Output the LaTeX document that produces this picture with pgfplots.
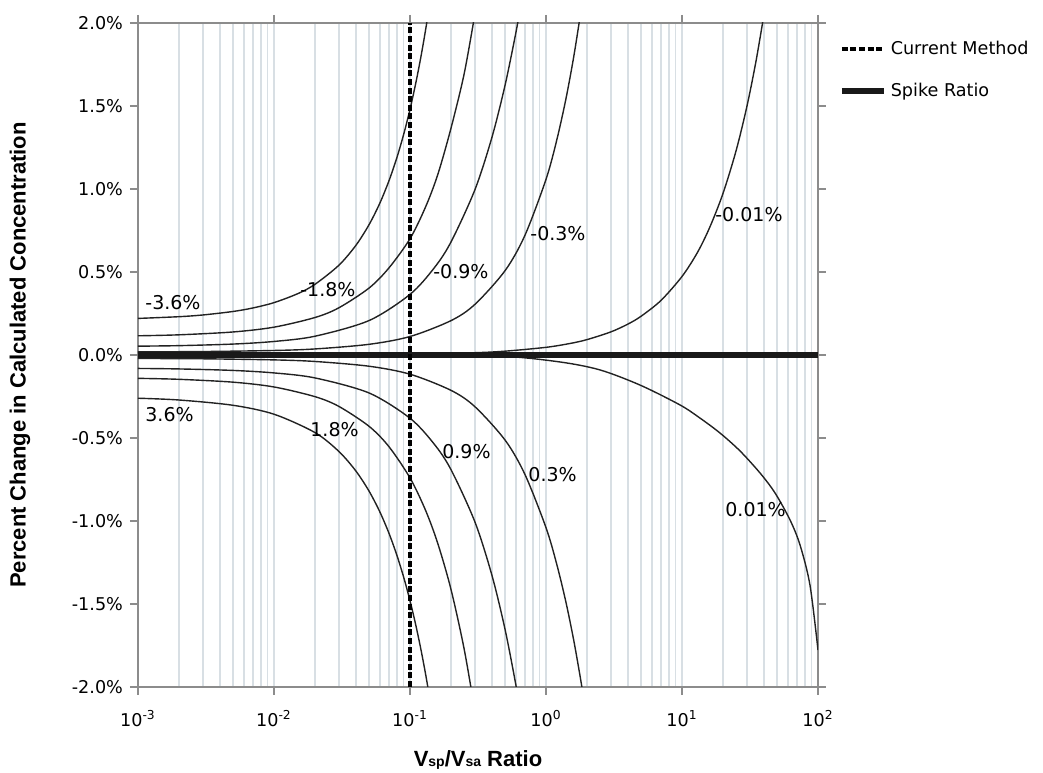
\documentclass[border=0pt]{standalone}
\usepackage{fontspec}
\setmainfont{DejaVu Sans}
\newfontfamily\labelfont{Liberation Sans}
\usepackage{pgfplots}
\pgfplotsset{compat=1.18}
\definecolor{gridc}{HTML}{D8DFE4}
\definecolor{axc}{HTML}{8C8C8C}
\definecolor{curvec}{HTML}{222222}
\begin{document}
\begin{tikzpicture}
\begin{axis}[name=ax, scale only axis, width=340pt, height=332pt,
  xmode=log, log basis x=10, xmin=1e-3, xmax=1e2, ymin=-2, ymax=2,
  xtick={1e-3,1e-2,1e-1,1e0,1e1,1e2},
  xticklabels={10\textsuperscript{-3},10\textsuperscript{-2},10\textsuperscript{-1},10\textsuperscript{0},10\textsuperscript{1},10\textsuperscript{2}},
  minor xtick={2e-3,3e-3,4e-3,5e-3,6e-3,7e-3,8e-3,9e-3,2e-2,3e-2,4e-2,5e-2,6e-2,7e-2,8e-2,9e-2,2e-1,3e-1,4e-1,5e-1,6e-1,7e-1,8e-1,9e-1,2,3,4,5,6,7,8,9,20,30,40,50,60,70,80,90},
  ytick={-2,-1.5,-1,-0.5,0,0.5,1,1.5,2},
  yticklabels={-2.0\%,-1.5\%,-1.0\%,-0.5\%,0.0\%,0.5\%,1.0\%,1.5\%,2.0\%},
  xmajorgrids=true, xminorgrids=true,
  major grid style={gridc, line width=0.7pt},
  minor grid style={gridc, line width=0.7pt},
  axis line style={axc, line width=0.6pt},
  tick style={axc, line width=0.6pt},
  major tick length=4pt, minor tick length=0pt, tick align=outside,
  ticklabel style={font=\fontsize{8.8}{10}\selectfont, text=black},
  xticklabel style={yshift=-4pt},
  xlabel={\labelfont\bfseries V{\fontsize{7}{7}\selectfont sp}/V{\fontsize{7}{7}\selectfont sa} Ratio},
  ylabel={\labelfont\bfseries Percent Change in Calculated Concentration},
  label style={font=\fontsize{11}{12}\selectfont},
  xlabel style={at={(axis description cs:0.5,-0.11)}, anchor=center},
  ylabel style={at={(axis description cs:-0.1735,0.5)}, anchor=center, rotate=0},
  legend style={at={(1.03,0.98)}, anchor=north west, draw=none, fill=none,
    font=\fontsize{8.8}{10}\selectfont, row sep=9pt, inner sep=0pt},
  legend cell align=left,
  legend image code/.code={\draw[#1] (0pt,0pt) -- (21pt,0pt);},
  reverse legend,
]
% upper curves
\addplot[curvec, line width=0.7pt, smooth, forget plot] coordinates {
(0.001,0.2203) (0.002,0.2307) (0.003,0.2411) (0.005,0.2621) (0.007,0.2833) (0.01,0.3154) (0.015,0.3699) (0.02,0.4256) (0.03,0.5406) (0.04,0.6604) (0.05,0.785) (0.06,0.9144) (0.07,1.0486) (0.08,1.1876) (0.09,1.3314) (0.1,1.48) (0.11,1.6334) (0.12,1.7916) (0.13,1.9546) (0.14,2.1224)};
\addplot[curvec, line width=0.7pt, smooth, forget plot] coordinates {
(0.001,0.1157) (0.002,0.1215) (0.005,0.1387) (0.01,0.1676) (0.02,0.2257) (0.03,0.2844) (0.05,0.4033) (0.07,0.5244) (0.1,0.7002) (0.13,0.8909) (0.16,1.0864) (0.2,1.3648) (0.25,1.6925) (0.3,2.0538)};
\addplot[curvec, line width=0.7pt, smooth, forget plot] coordinates {
(0.001,0.0532) (0.002,0.0563) (0.005,0.0658) (0.01,0.0815) (0.02,0.113) (0.05,0.2075) (0.1,0.365) (0.15,0.5225) (0.2,0.68) (0.3,0.995) (0.4,1.31) (0.5,1.625) (0.6,1.94) (0.65,2.0975)};
\addplot[curvec, line width=0.7pt, smooth, forget plot] coordinates {
(0.001,0.0189) (0.003,0.0208) (0.01,0.0272) (0.02,0.0364) (0.05,0.0643) (0.1,0.1112) (0.2,0.2068) (0.3,0.3048) (0.5,0.508) (0.7,0.7208) (1.0,1.058) (1.2,1.2948) (1.4,1.5412) (1.6,1.7972) (1.8,2.0628)};
\addplot[curvec, line width=0.7pt, smooth, forget plot] coordinates {
(0.001,0.0) (0.1,0.0046) (0.3,0.0138) (0.5,0.023) (1,0.0461) (1.5,0.0693) (2,0.0925) (3,0.1392) (4,0.1861) (5,0.2333) (7,0.3284) (10,0.473) (13,0.618) (16,0.7693) (20,0.972) (25,1.2313) (30,1.497) (35,1.7693) (40,2.048)};
% lower curves
\addplot[curvec, line width=0.7pt, smooth, forget plot] coordinates {
(0.001,-0.2605) (0.002,-0.2711) (0.005,-0.303) (0.01,-0.3568) (0.02,-0.4672) (0.03,-0.5812) (0.04,-0.6988) (0.05,-0.82) (0.06,-0.9448) (0.07,-1.0732) (0.08,-1.2052) (0.09,-1.3408) (0.1,-1.48) (0.11,-1.6228) (0.12,-1.7692) (0.13,-1.9192) (0.14,-2.0728)};
\addplot[curvec, line width=0.7pt, smooth, forget plot] coordinates {
(0.001,-0.1407) (0.002,-0.1465) (0.005,-0.1637) (0.01,-0.1926) (0.02,-0.2509) (0.03,-0.3098) (0.05,-0.4296) (0.07,-0.552) (0.1,-0.7404) (0.13,-0.9347) (0.16,-1.1347) (0.2,-1.4106) (0.25,-1.77) (0.3,-2.1456)};
\addplot[curvec, line width=0.7pt, smooth, forget plot] coordinates {
(0.001,-0.081) (0.002,-0.084) (0.005,-0.093) (0.01,-0.108) (0.02,-0.1381) (0.05,-0.2288) (0.1,-0.381) (0.15,-0.5347) (0.2,-0.69) (0.3,-1.005) (0.4,-1.326) (0.5,-1.653) (0.6,-1.986) (0.65,-2.1547)};
\addplot[curvec, line width=0.7pt, smooth, forget plot] coordinates {
(0.001,-0.021) (0.003,-0.0229) (0.01,-0.0295) (0.02,-0.039) (0.05,-0.0677) (0.1,-0.1157) (0.2,-0.2128) (0.3,-0.3113) (0.5,-0.5125) (0.7,-0.7193) (1.0,-1.04) (1.2,-1.2608) (1.4,-1.4872) (1.6,-1.7192) (1.8,-1.9568) (1.9,-2.0777)};
\addplot[curvec, line width=0.7pt, smooth, forget plot] coordinates {
(0.001,0.0) (0.1,-0.0012) (0.459,-0.006) (1.267,-0.042) (2.495,-0.09) (4.91,-0.181) (9.67,-0.301) (13.56,-0.38) (19.03,-0.47) (26.7,-0.578) (37.5,-0.711) (48.3,-0.831) (62.3,-0.994) (73.8,-1.145) (87.3,-1.386) (100,-1.777)};
% spike ratio
\addplot[black!90, line width=3pt] coordinates {(0.001,0) (100,0)};
\addlegendentry{Spike Ratio}
% current method
\addplot[black, line width=1.8pt, dash pattern=on 3pt off 1.3pt] coordinates {(0.1,-2) (0.1,2)};
\addlegendentry{Current Method}
% curve labels
\begin{scope}[every node/.style={anchor=west, inner sep=0pt, font=\fontsize{9.5}{11}\selectfont}]
\node at (axis cs:0.001126,0.313) {-3.6\%};
\node at (axis cs:0.01552,0.392) {-1.8\%};
\node at (axis cs:0.1476,0.5) {-0.9\%};
\node at (axis cs:0.763,0.729) {-0.3\%};
\node at (axis cs:17.48,0.843) {-0.01\%};
\node at (axis cs:0.001126,-0.361) {3.6\%};
\node at (axis cs:0.0184,-0.452) {1.8\%};
\node at (axis cs:0.1718,-0.584) {0.9\%};
\node at (axis cs:0.738,-0.723) {0.3\%};
\node at (axis cs:20.7,-0.934) {0.01\%};
\end{scope}
\end{axis}
\pgfresetboundingbox
\path ([xshift=-69pt,yshift=-43pt]ax.south west) rectangle ([xshift=112.5pt,yshift=11.5pt]ax.north east);
\end{tikzpicture}
\end{document}
